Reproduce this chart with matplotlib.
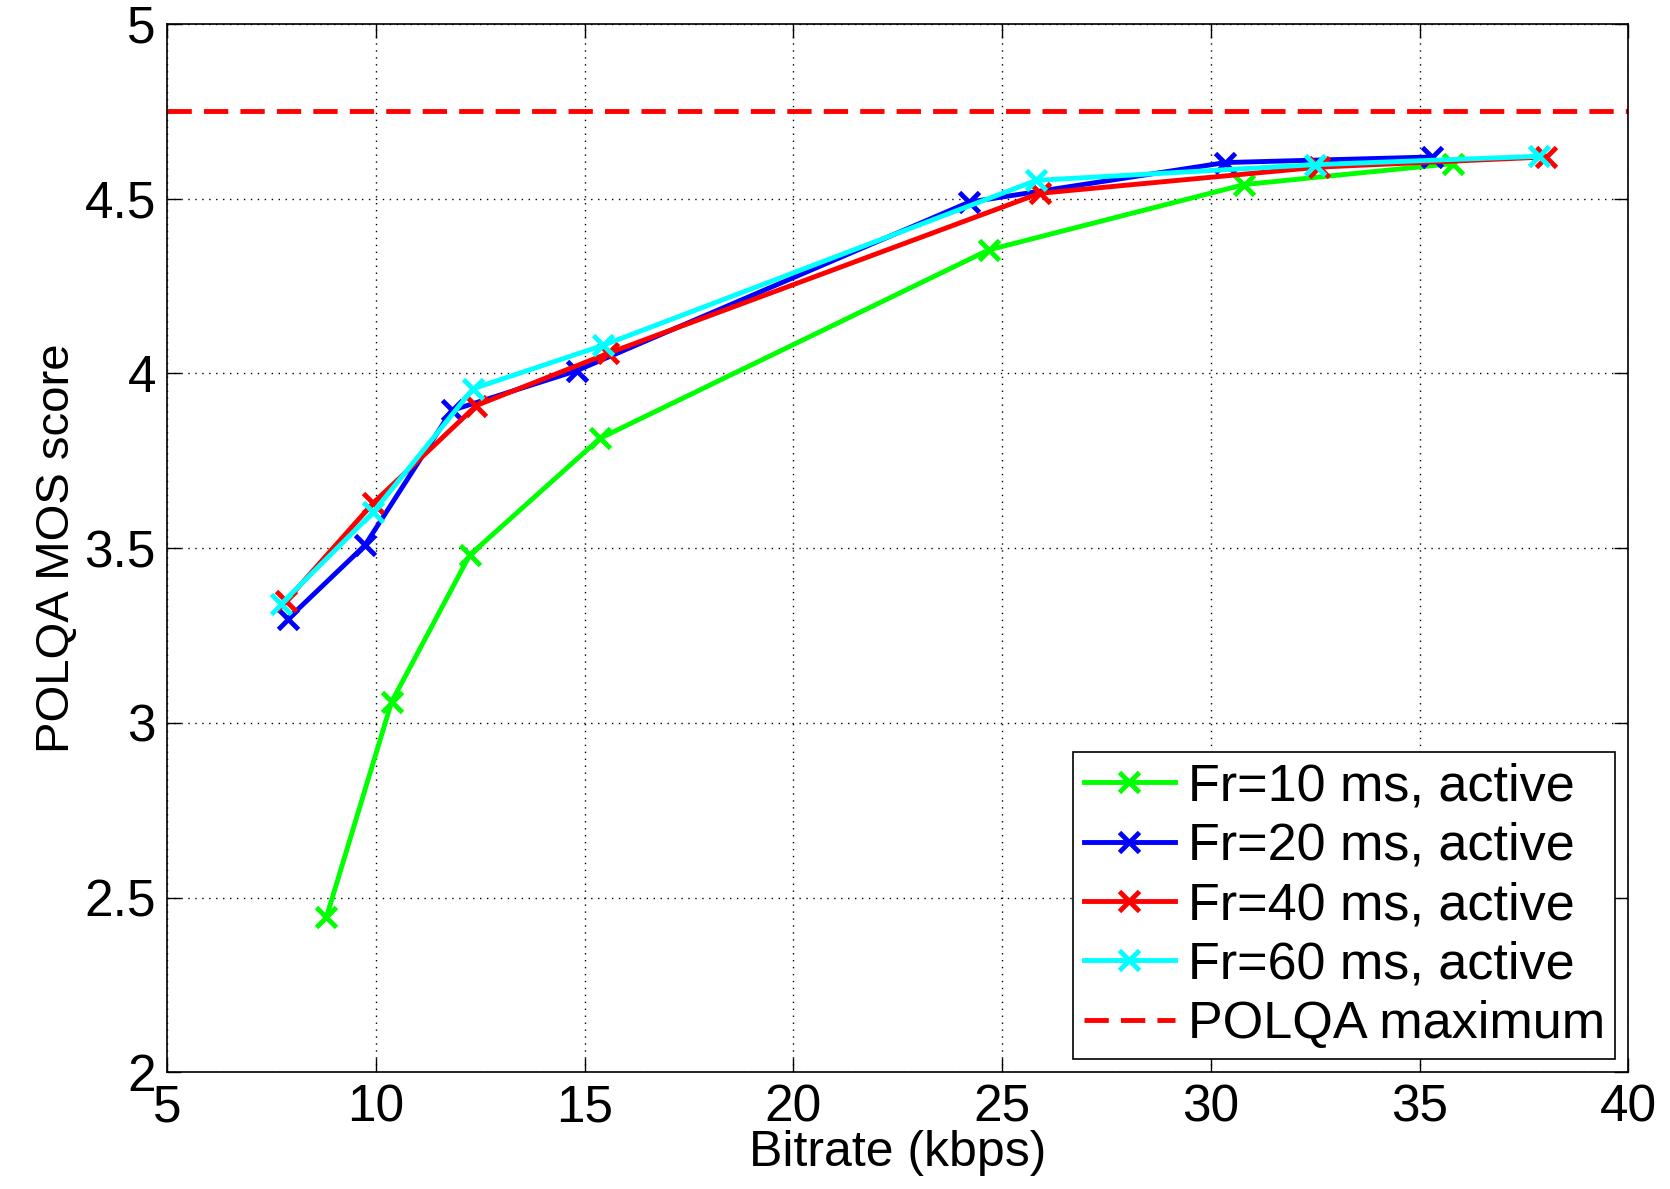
import matplotlib
matplotlib.use("Agg")
import matplotlib.pyplot as plt

plt.rcParams['font.family'] = ['Liberation Sans', 'DejaVu Sans']

# bitrate (kbps) / POLQA MOS per frame length
fr10_x = [8.82, 10.38, 12.25, 15.37, 24.68, 30.8, 35.8]
fr10_y = [2.445, 3.06, 3.48, 3.814, 4.353, 4.54, 4.60]
fr20_x = [7.90, 9.74, 11.82, 14.82, 24.22, 30.35, 35.3]
fr20_y = [3.298, 3.508, 3.894, 4.008, 4.49, 4.603, 4.619]
fr40_x = [7.86, 9.93, 12.41, 15.56, 25.9, 32.6, 38.03]
fr40_y = [3.35, 3.628, 3.908, 4.057, 4.515, 4.59, 4.619]
fr60_x = [7.74, 9.94, 12.33, 15.44, 25.82, 32.5, 37.87]
fr60_y = [3.341, 3.603, 3.956, 4.080, 4.552, 4.597, 4.621]
polqa_max = 4.75

series = [
    (fr10_x, fr10_y, '#00ff00', 'Fr=10 ms, active'),
    (fr20_x, fr20_y, '#0000ff', 'Fr=20 ms, active'),
    (fr40_x, fr40_y, '#ff0000', 'Fr=40 ms, active'),
    (fr60_x, fr60_y, '#00ffff', 'Fr=60 ms, active'),
]

dpi = 100
fig = plt.figure(figsize=(1670 / dpi, 1189 / dpi), dpi=dpi)
ax = fig.add_axes([0.100, 0.098, 0.875, 0.882])

for xs, ys, c, lab in series:
    ax.plot(xs, ys, color=c, linewidth=3.5, marker='x', markersize=15,
            markeredgewidth=3.5, label=lab)

ax.axhline(polqa_max, color='#ff0000', linestyle=(0, (5, 2.5)), linewidth=3.5,
           label='POLQA maximum')

ax.set_xlim(5, 40)
ax.set_ylim(2, 5)
ax.set_xticks([5, 10, 15, 20, 25, 30, 35, 40])
ax.set_yticks([2, 2.5, 3, 3.5, 4, 4.5, 5])
ax.set_yticklabels(['2', '2.5', '3', '3.5', '4', '4.5', '5'])
ax.grid(True, linestyle=(0, (1, 4)), color='black', linewidth=1.0)
ax.tick_params(direction='in', length=10, width=1, labelsize=37,
               top=True, right=True, pad=8)
for s in ax.spines.values():
    s.set_linewidth(1.2)

ax.set_xlabel('Bitrate (kbps)', fontsize=36, labelpad=-2)
ax.set_ylabel('POLQA MOS score', fontsize=34, labelpad=4)

leg = ax.legend(loc='lower right', fontsize=37.5, fancybox=False, framealpha=1,
                edgecolor='black', borderaxespad=0.25, handlelength=1.75,
                handletextpad=0.25, labelspacing=0.2, borderpad=0.2)
leg.get_frame().set_linewidth(1.2)

fig.savefig('out.png', dpi=dpi)
